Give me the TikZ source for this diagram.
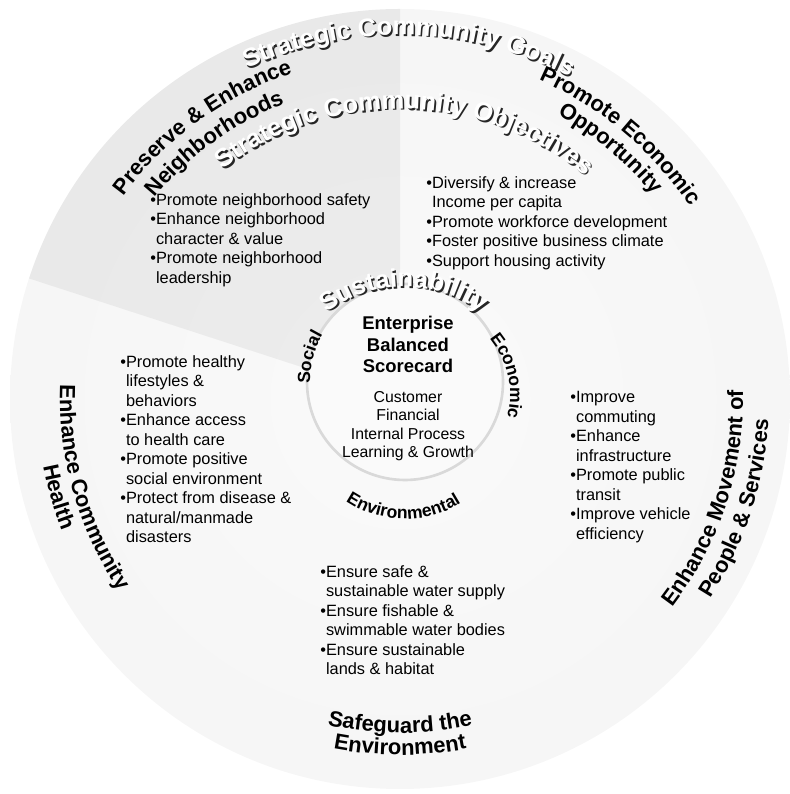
\documentclass[tikz,border=0pt]{standalone}
\usepackage{fontspec}
\setmainfont{Liberation Sans}
\usepackage{xcolor}
\usetikzlibrary{decorations.text, positioning}

\pgfdeclareradialshading{discshade}{\pgfpoint{0bp}{0bp}}{%
  color(0bp)=(gray!4); color(38bp)=(gray!9); color(45bp)=(gray!20); color(50bp)=(gray!45)}

\newcommand{\bul}{\textbullet}
\newcommand{\ind}{\hphantom{\textbullet}}

\begin{document}
\begin{tikzpicture}[
x=0.02cm, y=0.02cm,
objlist/.style={anchor=north west, align=left, inner sep=0pt,
  font=\fontsize{9.3}{11.1}\selectfont},
goallabel/.style={decorate, decoration={text along path, text align=center,
  text={|\bfseries\fontsize{12.5}{14}\selectfont|#1}}},
ringword/.style={decorate, decoration={text along path, text align=center,
  text={|\bfseries\fontsize{10}{11}\selectfont|#1}}},
embossed/.style 2 args={decorate, decoration={text along path, text align=center,
  text={|\color{#2}\bfseries\fontsize{14.5}{16}\selectfont|#1}}},
shadow/.style={shift={(1.6,-1.6)}}
]

\useasboundingbox (0,0) rectangle (790,794);
\coordinate (O) at (400,395);
\coordinate (R) at (405,412);
\coordinate (S) at (404,377);
\coordinate (E) at (422,399);
\coordinate (V) at (405,381);

% disc, highlighted goal sector, scorecard disc
\shade[shading=discshade] (O) circle[radius=390];
\fill[gray, opacity=0.1] (O) -- ([shift={(O)}]90:390) arc[start angle=90, end angle=162, radius=390] -- cycle;
\draw[gray!30, line width=1.5pt, fill=gray!4] (R) circle[radius=98];

% embossed titles
\path[embossed={Strategic Community Goals}{black!85}, shadow] ([shift={(O)}]117:364) arc[start angle=117, end angle=60, radius=364];
\path[embossed={Strategic Community Goals}{white}] ([shift={(O)}]117:364) arc[start angle=117, end angle=60, radius=364];
\path[embossed={Strategic Community Objectives}{black!85}, shadow] ([shift={(O)}]135:290) arc[start angle=135, end angle=43, radius=290];
\path[embossed={Strategic Community Objectives}{white}] ([shift={(O)}]135:290) arc[start angle=135, end angle=43, radius=290];
\path[embossed={Sustainability}{black!85}, shadow] ([shift={(S)}]133:130) arc[start angle=133, end angle=47, radius=130];
\path[embossed={Sustainability}{white}] ([shift={(S)}]133:130) arc[start angle=133, end angle=47, radius=130];

% sustainability ring
\path[ringword={Social}] ([shift={(R)}]190:95) arc[start angle=190, end angle=141, radius=95];
\path[ringword={Economic}] ([shift={(E)}]50:88) arc[start angle=50, end angle=-25, radius=88];
\path[ringword={Environmental}] ([shift={(V)}]224:106) arc[start angle=224, end angle=314, radius=106];

% goals
\path[goallabel={Preserve {\&} Enhance}] ([shift={(O)}]160:343) arc[start angle=160, end angle=92, radius=343];
\path[goallabel={Neighborhoods}] ([shift={(O)}]160:317) arc[start angle=160, end angle=92, radius=317];
\path[goallabel={Promote Economic}] ([shift={(O)}]84:348) arc[start angle=84, end angle=16, radius=348];
\path[goallabel={Opportunity}] ([shift={(O)}]84:325) arc[start angle=84, end angle=16, radius=325];
\path[goallabel={Enhance Community}] ([shift={(O)}]162:340) arc[start angle=162, end angle=230, radius=340];
\path[goallabel={Health}] ([shift={(O)}]162:363) arc[start angle=162, end angle=230, radius=363];
\path[goallabel={Enhance Movement of}] ([shift={(O)}]-52:343) arc[start angle=-52, end angle=16, radius=343];
\path[goallabel={People {\&} Services}] ([shift={(O)}]-52:369) arc[start angle=-52, end angle=16, radius=369];
\path[goallabel={Safeguard the}] ([shift={(O)}]-125:334) arc[start angle=-125, end angle=-55, radius=334];
\path[goallabel={Environment}] ([shift={(O)}]-125:356) arc[start angle=-125, end angle=-55, radius=356];

% objectives
\node[objlist] (neighb) at (150,601) {\bul Promote neighborhood safety\\ \bul Enhance neighborhood\\ \ind character \& value\\ \bul Promote neighborhood\\ \ind leadership};
\node[objlist] (econ) at (426,618) {\bul Diversify \& increase\\ \ind Income per capita\\ \bul Promote workforce development\\ \bul Foster positive business climate\\ \bul Support housing activity};
\node[objlist] (health) at (120,439) {\bul Promote healthy\\ \ind lifestyles \&\\ \ind behaviors\\ \bul Enhance access\\ \ind to health care\\ \bul Promote positive\\ \ind social environment\\ \bul Protect from disease \&\\ \ind natural/manmade\\ \ind disasters};
\node[objlist] (movement) at (570,403) {\bul Improve\\ \ind commuting\\ \bul Enhance\\ \ind infrastructure\\ \bul Promote public\\ \ind transit\\ \bul Improve vehicle\\ \ind efficiency};
\node[objlist] (environ) at (320,229) {\bul Ensure safe \&\\ \ind sustainable water supply\\ \bul Ensure fishable \&\\ \ind swimmable water bodies\\ \bul Ensure sustainable\\ \ind lands \& habitat};

% scorecard
\node[anchor=north, align=center, inner sep=0pt, font=\bfseries\fontsize{10.5}{12.2}\selectfont] (bsc) at (408,478) {Enterprise\\Balanced\\Scorecard};
\node[align=center, inner sep=0pt, font=\fontsize{9}{10.4}\selectfont, below=0.36cm of bsc] (persp) {Customer\\Financial\\Internal Process\\Learning \& Growth};

\end{tikzpicture}
\end{document}
